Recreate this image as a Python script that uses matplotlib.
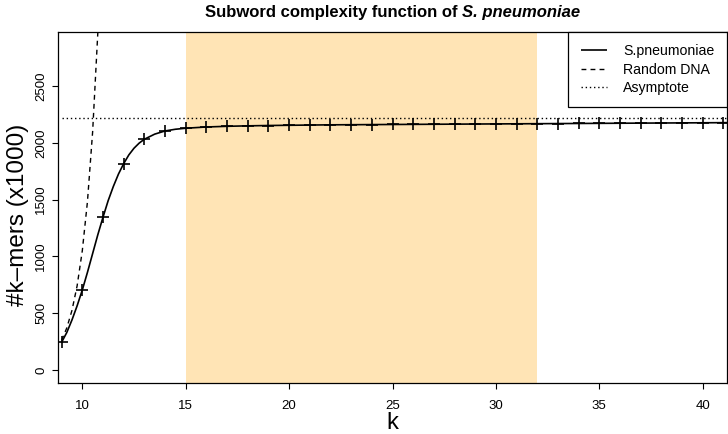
import matplotlib
matplotlib.use("Agg")
import matplotlib.pyplot as plt
from matplotlib.legend_handler import HandlerLine2D, HandlerLineCollection
from matplotlib.lines import Line2D
from matplotlib.collections import LineCollection

plt.rcParams['font.family'] = ['Liberation Sans', 'DejaVu Sans']

# ---- data ----
# k-mer counts (x1000) for S. pneumoniae at integer k
k_marks = list(range(9, 42))
spn_marks = [244, 704, 1344, 1816, 2031, 2104, 2128, 2139, 2145, 2149, 2152,
             2154, 2156, 2158, 2159, 2160, 2161, 2162, 2163, 2164, 2165, 2166,
             2167, 2168, 2169, 2170, 2171, 2172, 2173, 2174, 2175, 2176, 2177]
# smooth curve through the S. pneumoniae counts
k_curve = [9, 9.25, 9.5, 9.75, 10, 10.25, 10.5, 10.75, 11, 11.25, 11.5, 11.75,
           12, 12.25, 12.5, 12.75, 13, 13.5, 14, 14.5, 15, 16, 17, 18, 19, 20,
           21, 22, 23, 24, 25, 26, 27, 28, 29, 30, 31, 32, 33, 34, 35, 36, 37,
           38, 39, 40, 41, 42]
spn_curve = [244, 330, 440, 565, 704, 860, 1025, 1190, 1344, 1490, 1615, 1725,
             1816, 1893, 1952, 1997, 2031, 2076, 2104, 2119, 2128, 2139, 2145,
             2149, 2152, 2154, 2156, 2158, 2159, 2160, 2161, 2162, 2163, 2164,
             2165, 2166, 2167, 2168, 2169, 2170, 2171, 2172, 2173, 2174, 2175,
             2176, 2177, 2178]
# random DNA curve
k_rand = [9, 9.25, 9.5, 9.75, 10, 10.25, 10.5, 10.75, 11]
rand_vals = [262, 370, 524, 741, 1049, 1483, 2097, 2966, 4194]
asymptote = 2221
shade_range = [15, 32]

x_ticks = [10, 15, 20, 25, 30, 35, 40]
y_ticks = [0, 500, 1000, 1500, 2000, 2500]

title_plain = 'Subword complexity function of'
title_species = 'S. pneumoniae'

# ---- figure ----
fig = plt.figure(figsize=(7.28, 4.34), dpi=100)
ax = fig.add_axes([58.3 / 728, 1 - 383.3 / 434, 668.2 / 728, 351.3 / 434])

ax.axvspan(shade_range[0], shade_range[1], color='#FFE4B5', lw=0, zorder=0)

ax.plot(k_curve, spn_curve, color='black', lw=1.2, solid_capstyle='butt',
        label='S.pneumoniae', zorder=3)
ax.plot(k_marks, spn_marks, ls='none', marker='+', ms=9, mew=1.2,
        color='black', zorder=4)
ax.plot(k_rand, rand_vals, color='black', lw=1.0, ls=(0, (3.5, 3)),
        label='Random DNA', zorder=3)
ax.hlines(asymptote, k_marks[0], 41.2, color='black', lw=1.0,
          linestyles=[(0, (1, 2))], label='Asymptote', zorder=2)

ax.set_xlim(8.84, 41.15)
ax.set_ylim(-117, 2975)
ax.set_xticks(x_ticks)
ax.set_yticks(y_ticks)
ax.tick_params(axis='both', direction='out', length=4, width=0.8,
               labelsize=9.5, colors='black')
ax.tick_params(axis='x', pad=8)
ax.tick_params(axis='y', pad=4)
for lab in ax.get_yticklabels():
    lab.set_rotation(90)
    lab.set_va('center')

for sp in ax.spines.values():
    sp.set_linewidth(0.9)
    sp.set_color('black')

ax.set_xlabel('k', fontsize=17)
ax.xaxis.set_label_coords(0.5, -(429 - 383.3) / 351.3)
ax.xaxis.label.set_va('baseline')
ax.set_ylabel('#k\u2013mers (x1000)', fontsize=17.5)
ax.yaxis.set_label_coords(-0.044, 0.479)

# title: bold + bold italic species name, centred over the axes
cx = 0.5 * (58.3 + 726.5) / 728
ty = 1 - 12 / 434
t1 = fig.text(0, ty, title_plain, ha='left', va='center', fontsize=12,
              fontweight='bold')
t2 = fig.text(0, ty, title_species, ha='left', va='center', fontsize=12,
              fontweight='bold', fontstyle='italic')
r = fig.canvas.get_renderer()
w1 = t1.get_window_extent(r).width
w2 = t2.get_window_extent(r).width
gap = 4.0
x0 = cx * 728 - (w1 + gap + w2) / 2
t1.set_x(x0 / 728)
t2.set_x((x0 + w1 + gap) / 728)

leg = ax.legend(loc='upper right', borderaxespad=0, fancybox=False,
                edgecolor='black', framealpha=1, fontsize=10.2,
                handlelength=1.9, handletextpad=1.15, labelspacing=0.32,
                borderpad=0.85,
                handler_map={Line2D: HandlerLine2D(xpad=0.1),
                             LineCollection: HandlerLineCollection(xpad=0.1)})
leg.get_frame().set_linewidth(0.9)

fig.savefig('out.png', dpi=100)
